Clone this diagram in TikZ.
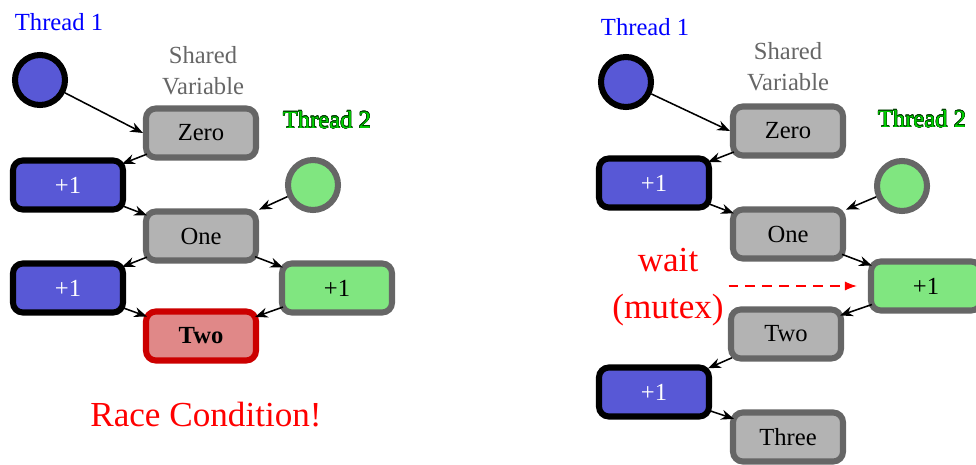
\documentclass[tikz,border=0pt]{standalone}
\usepackage{fontspec}
\setmainfont{Liberation Serif}
\usepackage{contour}
\usepackage{tikz}
\usetikzlibrary{arrows.meta}

\definecolor{tblue}{RGB}{88,88,214}
\definecolor{tgreen}{RGB}{128,230,128}
\definecolor{vgray}{RGB}{179,179,179}
\definecolor{vborder}{RGB}{102,102,102}
\definecolor{rfill}{RGB}{224,136,136}
\definecolor{rborder}{RGB}{204,0,0}
\definecolor{gtext}{RGB}{0,210,0}
\definecolor{gline}{RGB}{0,60,0}

\contourlength{0.25pt}

\begin{document}
\begin{tikzpicture}[
  font=\fontsize{17.5}{22}\selectfont,
  circA/.style = {circle, draw=black, fill=tblue, line width=4.3pt, minimum size=1.25cm},
  circB/.style = {circle, draw=vborder, fill=tgreen, line width=4.3pt, minimum size=1.25cm},
  var/.style = {rectangle, rounded corners=7pt, draw=vborder, fill=vgray, line width=4.3pt, minimum width=2.75cm, minimum height=1.225cm, align=center},
  incA/.style = {var, draw=black, fill=tblue, text=white},
  incB/.style = {var, fill=tgreen},
  race/.style = {var, draw=rborder, fill=rfill, font=\fontsize{17.5}{22}\selectfont\bfseries},
  arrow/.style = {line width=1.1pt, -{Stealth[length=3.2mm, width=2.5mm]}},
  link/.style = {arrow, shorten <=-3pt, shorten >=-3pt},
  big/.style = {text=red, font=\fontsize{25}{33.4}\selectfont, align=center}
]
\useasboundingbox (0,0) rectangle (24.4,11.6);

% without a lock
\node[text=blue, anchor=west] (lblA) at (0.25, 11.05) {Thread 1};
\node[text=vborder, align=center] (shared) at (5.075, 9.825) {Shared\\Variable};
\node (lblB) at (8.175, 8.6) {\contour{gline}{\textcolor{gtext}{Thread 2}}};

\node[circA] (thA) at (1, 9.6) {};
\node[circB] (thB) at (7.825, 6.975) {};

\node[var] (zero) at (5.025, 8.275) {Zero};
\node[incA] (incA1) at (1.7, 6.975) {+1};
\node[var] (one) at (5.025, 5.7) {One};
\node[incA] (incA2) at (1.7, 4.4) {+1};
\node[incB] (incB1) at (8.425, 4.4) {+1};
\node[race] (two) at (5.025, 3.2) {Two};

\node[big] (msg) at (5.15, 1.225) {Race Condition!};

\draw[arrow] (thA) -- (zero.west);
\draw[link] (zero) -- (incA1);
\draw[link] (incA1) -- (one);
\draw[arrow] (thB) -- (one);
\draw[link] (one) -- (incA2);
\draw[link] (one) -- (incB1);
\draw[link] (incA2) -- (two);
\draw[link] (incB1) -- (two);

% with a mutex
\node[text=blue, anchor=west] (lblA') at (14.9, 10.925) {Thread 1};
\node[text=vborder, align=center] (shared') at (19.7, 9.925) {Shared\\Variable};
\node (lblB') at (23.05, 8.625) {\contour{gline}{\textcolor{gtext}{Thread 2}}};

\node[circA] (thA') at (15.65, 9.55) {};
\node[circB] (thB') at (22.55, 6.95) {};

\node[var] (zero') at (19.7, 8.325) {Zero};
\node[incA] (incA1') at (16.35, 7.025) {+1};
\node[var] (one') at (19.7, 5.75) {One};
\node[incB] (incB1') at (23.15, 4.45) {+1};
\node[var] (two') at (19.65, 3.25) {Two};
\node[incA] (incA2') at (16.35, 1.8) {+1};
\node[var] (three') at (19.7, 0.675) {Three};

\node[big] (wait) at (16.7, 4.425) {wait\\(mutex)};

\draw[arrow] (thA') -- (zero'.west);
\draw[link] (zero') -- (incA1');
\draw[link] (incA1') -- (one');
\draw[arrow] (thB') -- (one');
\draw[link] (one') -- (incB1');
\draw[link] (incB1') -- (two');
\draw[link] (two') -- (incA2');
\draw[link] (incA2') -- (three');
\draw[red, line width=1.1pt, dash pattern=on 7pt off 5pt, -{Latex[length=3mm, width=2.3mm]}, shorten >=0.275cm]
  (wait.east |- incB1'.west) -- (incB1'.west);
\end{tikzpicture}
\end{document}
